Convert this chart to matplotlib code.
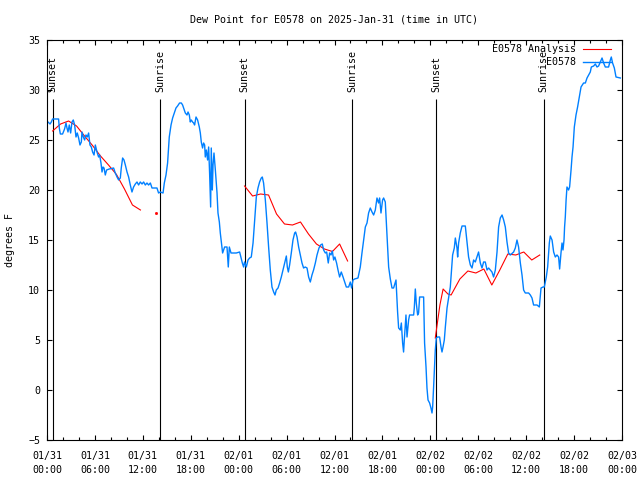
import matplotlib
import matplotlib.dates as mdates
import matplotlib.pyplot as plt
import numpy as np
import pandas as pd

matplotlib.use("Agg")

START = pd.Timestamp("2025-01-31 00:00")
END = pd.Timestamp("2025-02-03 00:00")

# E0578 station obs (hours after 01/31 00:00 UTC, deg F)
obs_hours = [
    0.05, 0.13, 0.38, 0.54, 0.70, 1.45, 1.54, 1.67, 1.95, 2.20, 2.38, 2.50, 2.63, 2.79, 2.96,
    3.13, 3.29, 3.46, 3.63, 3.79, 3.96, 4.13, 4.30, 4.38, 4.55, 4.71, 4.88, 5.05, 5.21, 5.38,
    5.55, 5.71, 5.89, 6.05, 6.26, 6.46, 6.59, 6.76, 6.89, 7.01, 7.14, 7.30, 7.46, 7.80, 8.34,
    8.55, 8.77, 8.97, 9.18, 9.30, 9.47, 9.64, 9.81, 10.02, 10.22, 10.43, 10.64, 10.84, 11.06,
    11.27, 11.47, 11.68, 11.90, 12.10, 12.31, 12.52, 12.72, 12.94, 13.15, 13.35, 13.77, 13.97,
    14.19, 14.53, 14.69, 14.90, 15.10, 15.31, 15.53, 15.73, 15.94, 16.15, 16.35, 16.60, 16.82,
    16.98, 17.11, 17.32, 17.53, 17.66, 17.82, 17.94, 18.07, 18.23, 18.36, 18.48, 18.66, 18.86,
    19.07, 19.20, 19.32, 19.48, 19.61, 19.74, 19.82, 19.95, 20.11, 20.24, 20.36, 20.49, 20.57,
    20.70, 20.79, 20.91, 21.08, 21.29, 21.41, 21.58, 21.70, 21.83, 21.99, 22.11, 22.24, 22.54,
    22.70, 22.83, 23.04, 23.37, 23.70, 24.12, 24.46, 24.62, 24.74, 24.96, 25.17, 25.37, 25.58,
    25.80, 26.00, 26.21, 26.42, 26.62, 26.83, 26.96, 27.12, 27.34, 27.55, 27.75, 27.96, 28.17,
    28.38, 28.55, 28.71, 28.93, 29.13, 29.34, 29.55, 29.75, 29.97, 30.09, 30.22, 30.38, 30.59,
    30.80, 31.01, 31.13, 31.31, 31.51, 31.72, 31.93, 32.13, 32.34, 32.56, 32.76, 32.97, 33.18,
    33.38, 33.60, 33.81, 34.06, 34.26, 34.47, 34.64, 34.85, 35.02, 35.22, 35.39, 35.56, 35.73,
    35.89, 36.05, 36.26, 36.44, 36.64, 36.85, 37.07, 37.27, 37.48, 37.77, 37.98, 38.14, 38.32,
    38.52, 38.94, 39.23, 39.44, 39.65, 39.86, 40.07, 40.27, 40.48, 40.70, 40.90, 41.11, 41.32,
    41.52, 41.65, 41.82, 42.02, 42.15, 42.36, 42.49, 42.65, 42.78, 42.99, 43.20, 43.40, 43.70,
    43.90, 44.03, 44.24, 44.37, 44.53, 44.65, 44.74, 44.95, 45.08, 45.28, 45.40, 45.91, 45.99,
    46.12, 46.24, 46.41, 46.53, 46.66, 47.16, 47.28, 47.46, 47.58, 47.71, 47.91, 48.08, 48.21,
    48.29, 48.41, 48.54, 48.62, 48.75, 48.91, 49.16, 49.34, 49.46, 49.59, 49.75, 49.88, 50.09,
    50.29, 50.50, 50.63, 50.79, 51.00, 51.13, 51.34, 51.42, 51.54, 51.75, 51.97, 52.38, 52.59,
    52.79, 53.01, 53.22, 53.42, 53.63, 53.84, 54.04, 54.26, 54.47, 54.67, 54.88, 55.10, 55.30,
    55.51, 55.72, 55.92, 56.14, 56.35, 56.55, 56.76, 56.98, 57.18, 57.39, 57.60, 57.80, 58.01,
    58.43, 58.64, 58.85, 59.05, 59.27, 59.48, 59.68, 59.89, 60.31, 60.52, 60.73, 60.93, 61.36,
    61.65, 61.86, 62.11, 62.27, 62.52, 62.69, 62.90, 63.02, 63.24, 63.44, 63.65, 63.86, 64.06,
    64.19, 64.28, 64.36, 64.49, 64.61, 64.74, 64.81, 64.90, 65.00, 65.11, 65.31, 65.44, 65.62,
    65.74, 65.87, 66.03, 66.24, 66.44, 66.65, 66.87, 67.19, 67.41, 67.62, 67.82, 68.03, 68.16,
    68.45, 68.66, 68.87, 69.07, 69.28, 69.50, 69.70, 69.91, 70.32, 70.54, 70.66, 70.82, 71.04,
    71.25, 71.79,
]
obs_dewpt = [
    26.8, 26.8, 26.6, 26.8, 27.1, 27.1, 26.2, 25.6, 25.6, 26.1, 26.7, 26.2, 25.8, 26.5, 25.7,
    26.8, 27.0, 26.5, 25.3, 25.7, 25.2, 24.5, 24.8, 25.8, 25.3, 25.0, 25.5, 25.3, 25.7, 24.5,
    24.3, 23.8, 23.5, 24.5, 23.8, 23.3, 23.5, 22.7, 21.8, 22.3, 22.2, 21.5, 22.0, 22.1, 22.2,
    21.7, 21.3, 21.0, 21.2, 22.2, 23.2, 23.0, 22.5, 21.8, 21.3, 20.5, 19.8, 20.3, 20.6,
    20.8, 20.5, 20.8, 20.6, 20.8, 20.5, 20.7, 20.5, 20.7, 20.2, 20.2, 20.2, 19.7,
    19.8, 19.7, 20.7, 21.5, 22.7, 25.3, 26.5, 27.2, 27.7, 28.2, 28.4, 28.7, 28.7,
    28.5, 28.2, 27.7, 27.5, 27.8, 27.5, 26.8, 27.0, 26.8, 26.7, 26.5, 27.3, 27.0,
    26.3, 25.7, 24.8, 24.2, 24.7, 24.5, 23.3, 24.0, 23.0, 24.3, 21.7, 18.3, 24.2,
    20.0, 22.5, 23.7, 22.0, 19.7, 17.7, 16.8, 15.7, 14.8, 13.7, 14.0, 14.3, 14.3,
    12.3, 14.3, 13.7, 13.7, 13.7, 13.8, 12.7, 12.3, 12.8, 12.3, 13.0, 13.2, 13.3,
    14.7, 17.0, 19.3, 20.2, 20.8, 21.2, 21.3, 20.7, 19.0, 16.7, 14.3, 12.0, 10.3,
    9.8, 9.5, 10.0, 10.2, 10.7, 11.3, 12.0, 12.7, 13.4, 12.3, 11.8, 12.5, 13.7,
    15.0, 15.7, 15.8, 15.3, 14.3, 13.5, 12.7, 12.2, 12.3, 12.2, 11.3, 10.8, 11.5,
    12.0, 12.7, 13.5, 14.2, 14.5, 14.6, 14.0, 13.7, 13.8, 12.7, 13.7, 13.5, 13.9,
    13.0, 13.3, 12.7, 12.0, 11.3, 11.8, 11.3, 10.8, 10.3, 10.3, 10.8, 10.2, 11.0,
    11.1, 11.2, 12.3, 13.7, 15.0, 16.3, 16.7, 17.7, 18.2, 17.8, 17.5, 18.0, 19.2,
    18.7, 19.2, 17.7, 19.0, 19.2, 18.8, 16.7, 14.3, 12.3, 11.1, 10.2, 10.2, 11.0,
    7.8, 6.2, 6.0, 6.7, 4.7, 3.8, 5.0, 7.5, 5.3, 7.0, 7.5, 7.5, 8.2,
    10.1, 8.7, 7.5, 7.7, 9.3, 9.3, 4.7, 2.3, 0.2, -1.0, -1.3, -1.8, -2.3,
    -1.7, 0.3, 2.7, 4.0, 5.2, 5.3, 5.3, 4.3, 3.8, 4.3, 5.0, 6.3, 8.2,
    9.2, 10.3, 11.8, 13.5, 14.2, 15.2, 14.2, 13.3, 14.7, 15.7, 16.4, 16.4, 14.8,
    13.3, 12.5, 12.2, 13.0, 12.8, 13.3, 13.8, 12.7, 12.2, 12.8, 12.8, 12.0, 12.2,
    12.0, 11.8, 11.3, 12.0, 13.8, 16.3, 17.2, 17.5, 17.0, 16.3, 14.8, 13.7, 13.5,
    13.8, 14.2, 15.0, 14.3, 12.7, 11.5, 10.0, 9.7, 9.7, 9.5, 9.2, 8.5, 8.5,
    8.3, 10.2, 10.3, 10.3, 11.3, 12.3, 14.7, 15.4, 15.0, 13.8, 13.3, 13.5, 13.3,
    12.1, 13.0, 13.7, 14.7, 14.0, 15.0, 16.3, 17.3, 19.0, 20.3, 20.0, 20.3, 22.0,
    23.3, 24.3, 26.3, 27.5, 28.3, 29.3, 30.3, 30.7, 30.7, 31.2, 31.5, 31.8, 32.3,
    32.4, 32.6, 32.3, 32.4, 32.8, 33.2, 32.7, 32.3, 32.3, 33.0, 33.3, 32.7, 32.2,
    31.3, 31.2,
]

# E0578 analysis (NaN = gap)
ana_hours = [
    0.70, 1.70, 2.70, 3.70, 4.70, 5.70, 6.70, 7.70, 8.70, 9.70, 10.70, 11.70, 12.70,
    13.69, 14.69,
    24.74, 25.74, 26.74, 27.74, 28.74, 29.74, 30.74, 31.74, 32.74, 33.74, 34.74, 35.74,
    36.64, 37.64, 38.64,
    48.62, 48.90, 49.20, 49.60, 50.20, 50.60, 51.70, 52.70, 53.70, 54.70, 55.70, 56.70,
    57.70, 58.70, 59.70, 60.70, 61.70,
]
ana_dewpt = [
    25.9, 26.6, 26.9, 26.4, 25.4, 24.45, 23.4, 22.5, 21.55, 20.1, 18.5, 18.0, np.nan,
    17.7, np.nan,
    20.4, 19.4, 19.6, 19.5, 17.6, 16.6, 16.5, 16.8, 15.6, 14.6, 14.1, 13.85,
    14.6, 12.9, np.nan,
    5.2, 6.8, 8.5, 10.1, 9.6, 9.5, 11.1, 11.9, 11.7, 12.1, 10.5, 12.0,
    13.6, 13.5, 13.8, 13.0, 13.5,
]

sunset_hours = [0.70, 24.74, 48.71]
sunrise_hours = [14.19, 38.23, 62.18]

OBS_COLOR = "#0080ff"
ANA_COLOR = "#ff0000"


def to_time(hours):
    return START + pd.to_timedelta(np.asarray(hours, dtype=float), unit="h")


plt.rcParams["font.family"] = ["DejaVu Sans Mono"]
plt.rcParams["font.size"] = 7.2

fig = plt.figure(figsize=(6.4, 4.8), dpi=100)
ax = fig.add_axes([47 / 640, 40 / 480, 575 / 640, 400 / 480])

# sunrise / sunset markers
for hours, label in ((sunset_hours, "Sunset"), (sunrise_hours, "Sunrise")):
    times = to_time(hours)
    ax.vlines(times, -5, 29.1, color="black", lw=0.8)
    for t in times:
        ax.text(t, 29.8, label, rotation=90, ha="center", va="bottom")

ana_t = to_time(ana_hours)
ana_v = np.asarray(ana_dewpt, dtype=float)
ax.plot(ana_t, ana_v, color=ANA_COLOR, lw=0.8)
# single analysis values with no neighbour don't get a line segment
padded = np.concatenate(([np.nan], ana_v, [np.nan]))
lonely = ~np.isnan(ana_v) & np.isnan(padded[:-2]) & np.isnan(padded[2:])
ax.plot(ana_t[lonely], ana_v[lonely], ls="none", marker="s", ms=1.0, color=ANA_COLOR)

ax.plot(to_time(obs_hours), obs_dewpt, color=OBS_COLOR, lw=1.0)

ax.set_xlim(START, END)
ax.set_ylim(-5, 35)
ax.set_yticks(range(-5, 36, 5))
ax.xaxis.set_major_locator(mdates.HourLocator(byhour=[0, 6, 12, 18]))
ax.xaxis.set_minor_locator(mdates.HourLocator(byhour=range(0, 24, 2)))
ax.xaxis.set_major_formatter(mdates.DateFormatter("%m/%d\n%H:%M"))
ax.tick_params(which="both", direction="in", top=True, right=True, width=0.8)
ax.tick_params(which="major", length=3.6)
ax.tick_params(which="minor", length=2.2)
ax.tick_params(axis="y", pad=5)
ax.tick_params(axis="x", pad=8)
for lbl in ax.get_xticklabels():
    lbl.set_linespacing(1.5)
for spine in ax.spines.values():
    spine.set_linewidth(0.8)

# key, gnuplot style (right aligned text, sample line after)
key_rows = [("E0578 Analysis", ANA_COLOR, 0.9775), ("E0578", OBS_COLOR, 0.944)]
for text, color, y in key_rows:
    ax.text(0.92, y, text, transform=ax.transAxes, ha="right", va="center")
    ax.plot([0.932, 0.981], [y, y], transform=ax.transAxes, color=color,
            lw=1.0 if color == OBS_COLOR else 0.8, clip_on=False)

fig.text(334 / 640, 1 - 20 / 480, "Dew Point for E0578 on 2025-Jan-31 (time in UTC)",
         ha="center", va="center")
fig.text(10 / 640, 0.5, "degrees F", rotation=90, ha="center", va="center")

fig.savefig("out.png", dpi=100)
plt.close(fig)
